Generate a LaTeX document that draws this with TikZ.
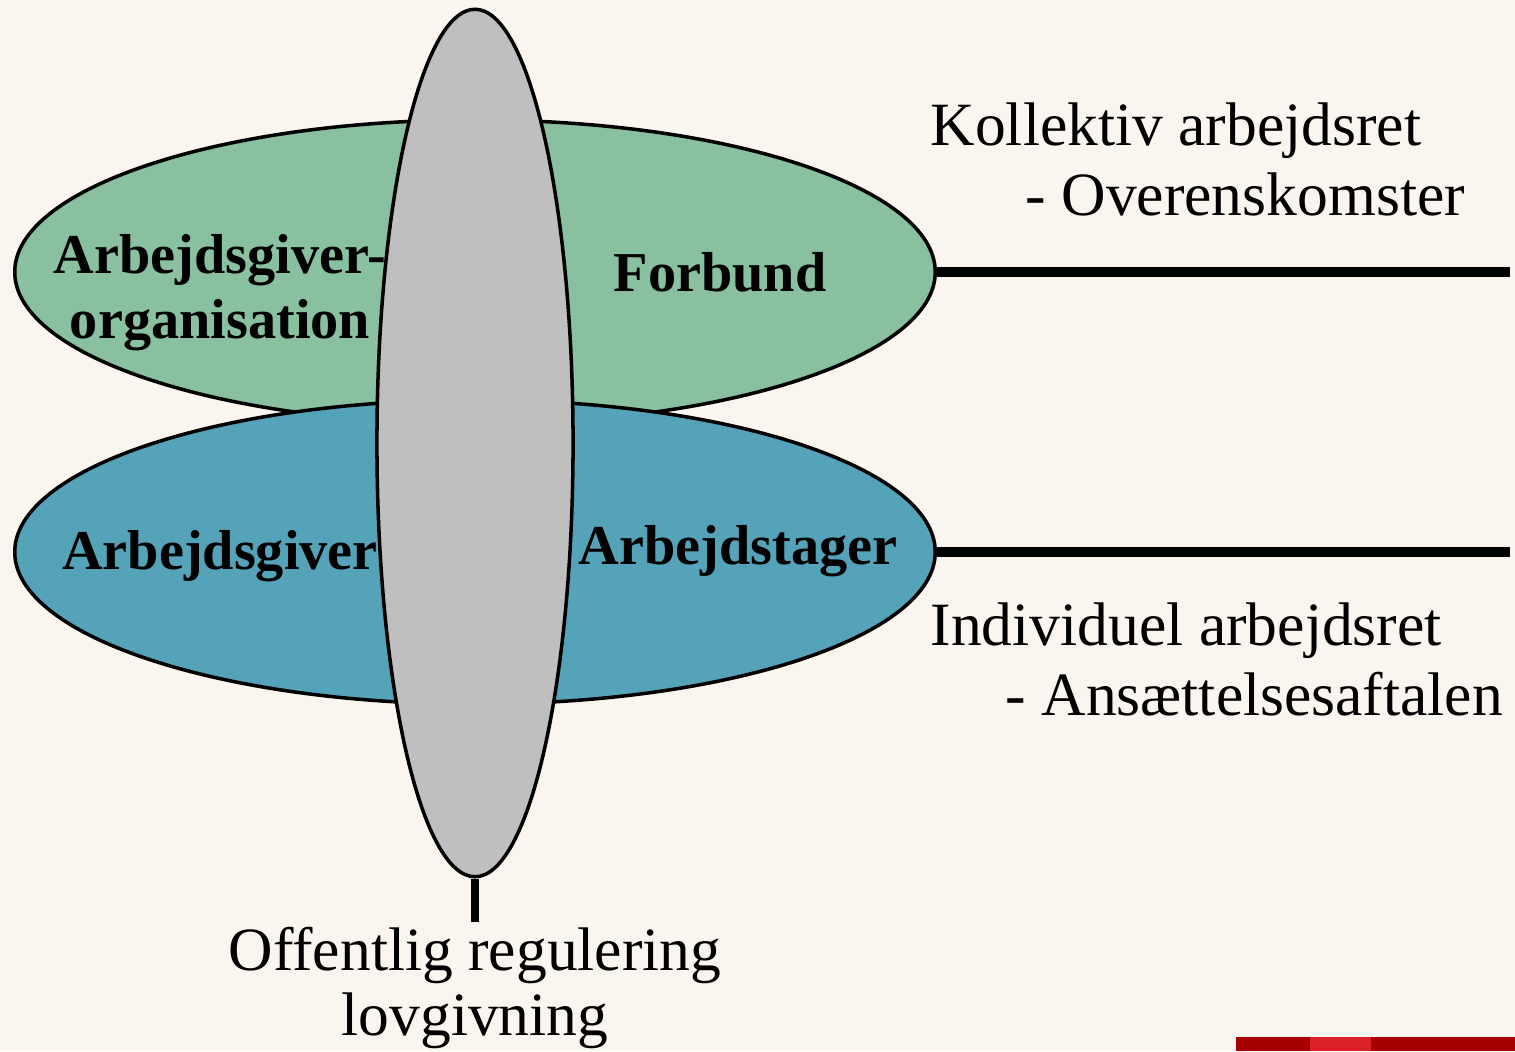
\documentclass[tikz,border=0pt]{standalone}
\usepackage{fontspec}
\setmainfont{Liberation Serif}
\usetikzlibrary{shapes.geometric}

\definecolor{bgcol}{HTML}{FAF6EF}
\definecolor{greenfill}{HTML}{88C0A0}
\definecolor{bluefill}{HTML}{55A3B8}
\definecolor{greyfill}{HTML}{BFBFBF}
\definecolor{darkred}{HTML}{A80000}
\definecolor{lightred}{HTML}{DC2028}

\tikzset{
  party/.style={ellipse, draw=black, line width=1pt, inner sep=0pt,
                minimum width=9.2cm, minimum height=3.04cm},
  partytext/.style={font=\fontsize{16}{18.5}\selectfont\bfseries, align=center, inner sep=0pt},
  sidetext/.style={font=\fontsize{17.5}{20}\selectfont, anchor=base west, inner sep=0pt},
  level/.style={line width=3pt}
}

\begin{document}
\begin{tikzpicture}[x=0.01cm,y=-0.01cm]
                \fill[bgcol] (0,0) rectangle (1515,1051);
                \useasboundingbox (0,0) rectangle (1515,1051);

                % the two levels
                \node[party, fill=greenfill] (collective) at (475,272) {};
                \node[party, fill=bluefill] (individual) at (475,552) {};
                \node[ellipse, draw=black, line width=1pt, inner sep=0pt, fill=greyfill,
                      minimum width=1.96cm, minimum height=8.67cm] (public) at (475,443) {};

                \node[partytext] (employerorg) at (220,293) {Arbejdsgiver-\\organisation};
                \node[partytext] (union) at (720,272) {Forbund};
                \node[partytext] (employer) at (220,556) {Arbejdsgiver};
                \node[partytext] (employee) at (738,551) {Arbejdstager};

                \coordinate (collectiveend) at (1510,272);
                \coordinate (individualend) at (1510,552);
                \coordinate (publicend) at (475,922);
                \draw[level] (collective.east) -- (collectiveend);
                \draw[level] (individual.east) -- (individualend);
                \draw[line width=2pt] (public.south) -- (publicend);

                \node[sidetext] (kollektiv) at (930,145) {Kollektiv arbejdsret};
                \node[sidetext] (overens) at (1025,215) {- Overenskomster};
                \node[sidetext] (individuel) at (930,645) {Individuel arbejdsret};
                \node[sidetext] (ansaet) at (1005,715) {- Ansættelsesaftalen};
                \node[font=\fontsize{17.5}{18.5}\selectfont, align=center, anchor=north, inner sep=0pt]
                      (offentlig) at (475,926) {Offentlig regulering\\lovgivning};

                % red bar
                \fill[darkred] (1236,1037) rectangle (1515,1051);
                \fill[lightred] (1310,1037) rectangle (1371,1051);
            \end{tikzpicture}
\end{document}
